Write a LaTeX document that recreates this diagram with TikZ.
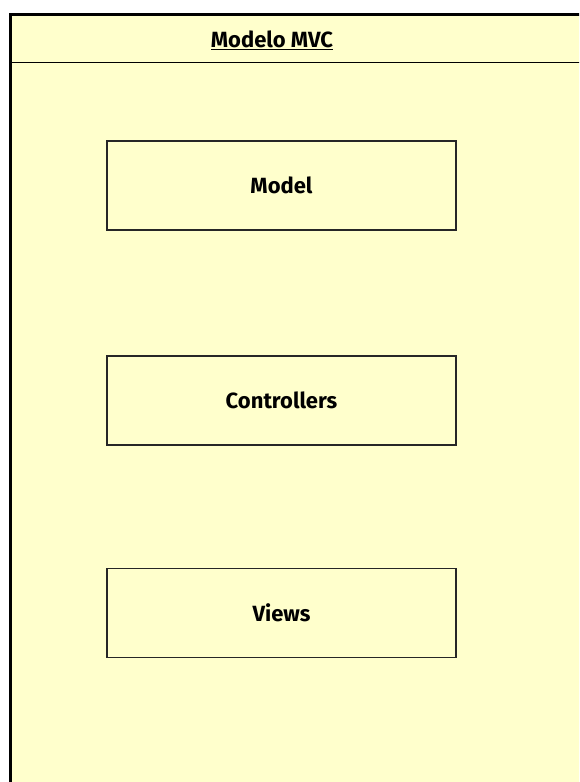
\documentclass[tikz,border=0pt]{standalone}
\usepackage{fontspec}
\setmainfont{Fira Sans}
\definecolor{paper}{HTML}{FFFFCC}
\tikzset{layer/.style={draw=black!85, line width=1.2pt, fill=paper, minimum width=349pt, minimum height=89pt, inner sep=0pt, font=\fontsize{22}{26}\selectfont\bfseries}}
\begin{document}
\begin{tikzpicture}[x=1pt,y=-1pt]
\useasboundingbox (0,0) rectangle (579,782);
\clip (0,0) rectangle (579,782);
\draw [fill=paper, line width=3pt] (10.5,14.5) rectangle (620,820);
\draw [line width=1.5pt] (10.5,62.5) -- (620,62.5);
\node [font=\fontsize{22}{26}\selectfont\bfseries] (title) at (272,40) {\underline{Modelo MVC}};
\node [layer] (model) at (281.5,185.5) {Model};
\node [layer] (ctrl) at (281.5,400.5) {Controllers};
\node [layer] (views) at (281.5,613) {Views};
\end{tikzpicture}
\end{document}
